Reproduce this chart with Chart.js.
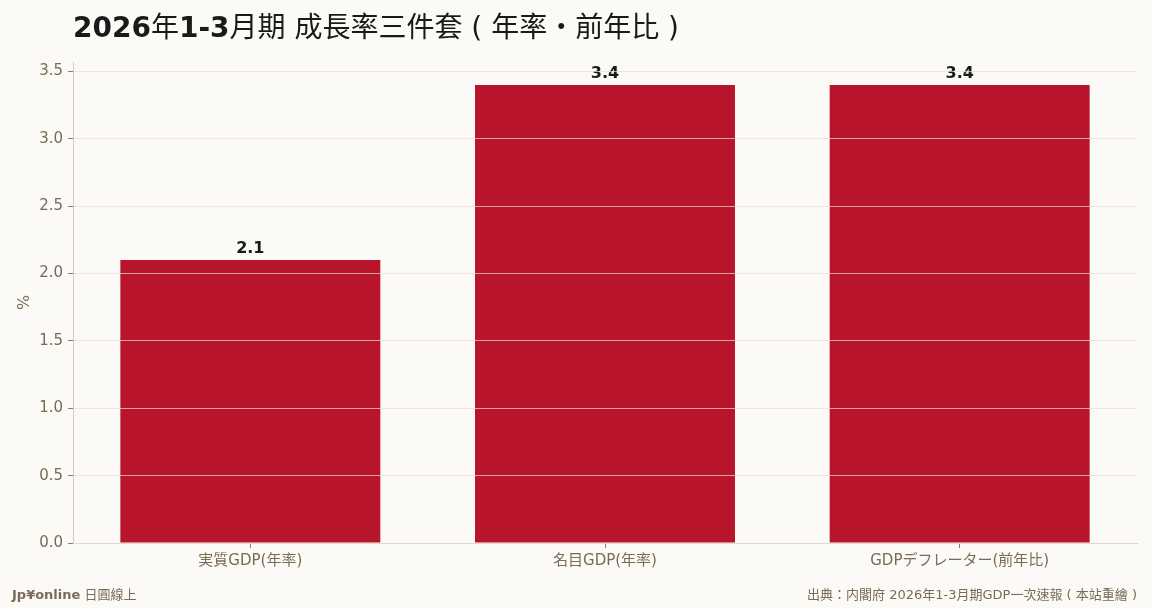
<!DOCTYPE html>
<html lang="zh-Hant">
<head>
<meta charset="utf-8">
<script src="https://cdn.jsdelivr.net/npm/chart.js@4/dist/chart.umd.min.js"></script>
<style>
  html, body { margin: 0; padding: 0; background: #fbfaf6; }
  #wrap { width: 1152px; height: 608px; position: relative; }
</style>
</head>
<body>
<div id="wrap"><canvas id="gdp_growth"></canvas></div>
<script>
// 2026年1-3月期 成長率三件套
var categories = ["実質GDP(年率)", "名目GDP(年率)", "GDPデフレーター(前年比)"];
var growthValues = [2.1, 3.4, 3.4];
var yTicks = [0, 0.5, 1.0, 1.5, 2.0, 2.5, 3.0, 3.5];

var INK = '#1a1a1a';
var MUTED = '#7a6b55';
var SPINE = '#d2cbbf';
var LATIN = '"DejaVu Sans"';
var CJK = '"Noto Sans CJK TC"';

// draw a line of mixed runs: [text, bold]
function drawRuns(ctx, runs, x, y, size, color, alignRight) {
    var fontFor = function (r) {
        return (r[1] ? 'bold ' : '') + size + 'px ' + LATIN + ', ' + CJK;
    };
    if (alignRight) {
        var total = 0;
        runs.forEach(function (r) { ctx.font = fontFor(r); total += ctx.measureText(r[0]).width; });
        x -= total;
    }
    ctx.fillStyle = color;
    ctx.textAlign = 'left';
    ctx.textBaseline = 'alphabetic';
    runs.forEach(function (r) {
        ctx.font = fontFor(r);
        ctx.fillText(r[0], x, y);
        x += ctx.measureText(r[0]).width;
    });
}

var decorations = {
    id: 'decorations',
    afterDatasetsDraw: function (chart) {
        var ctx = chart.ctx;
        ctx.save();
        // value labels
        var meta = chart.getDatasetMeta(0);
        ctx.font = 'bold 16px ' + LATIN;
        ctx.fillStyle = INK;
        ctx.textAlign = 'center';
        ctx.textBaseline = 'alphabetic';
        meta.data.forEach(function (bar, i) {
            ctx.fillText(growthValues[i].toFixed(1), bar.x, bar.y - 7);
        });
        ctx.restore();
    },
    afterDraw: function (chart) {
        var ctx = chart.ctx;
        var area = chart.chartArea;
        ctx.save();
        // left spine
        ctx.strokeStyle = SPINE;
        ctx.lineWidth = 1;
        ctx.beginPath();
        ctx.moveTo(Math.round(area.left) + 0.5, area.top);
        ctx.lineTo(Math.round(area.left) + 0.5, area.bottom);
        ctx.stroke();

        drawRuns(ctx, [["2026", true], ["年", false], ["1-3", true], ["月期 成長率三件套 ( 年率・前年比 )", false]],
            73, 37, 28, INK, false);
        drawRuns(ctx, [["Jp¥online", true], [" 日圓線上", false]], 12, 599, 13, MUTED, false);
        drawRuns(ctx, [["出典：内閣府 2026年1-3月期GDP一次速報 ( 本站重繪 )", false]], 1137, 599, 13, MUTED, true);
        ctx.restore();
    }
};

new Chart(document.getElementById('gdp_growth'), {
    type: 'bar',
    data: {
        labels: categories,
        datasets: [{
            data: growthValues,
            backgroundColor: '#b8152c',
            borderWidth: 0,
            categoryPercentage: 1.0,
            barPercentage: 0.733
        }]
    },
    options: {
        responsive: true,
        maintainAspectRatio: false,
        animation: false,
        layout: { padding: { top: 62, right: 15, bottom: 0, left: 0 } },
        plugins: {
            legend: { display: false },
            tooltip: { enabled: false }
        },
        scales: {
            x: {
                grid: {
                    display: true,
                    drawOnChartArea: false,
                    drawTicks: true,
                    offset: false,
                    tickLength: 5,
                    tickColor: '#8a7d68'
                },
                border: { color: SPINE, width: 1 },
                ticks: {
                    color: MUTED,
                    padding: 4,
                    font: { family: LATIN + ', ' + CJK, size: 15 }
                },
                afterFit: function (scale) { scale.height = 65; }
            },
            y: {
                z: 1,
                min: 0,
                max: 3.57,
                afterBuildTicks: function (scale) {
                    scale.ticks = yTicks.map(function (v) { return { value: v }; });
                },
                grid: {
                    z: 1,
                    color: 'rgba(232, 224, 210, 0.7)',
                    lineWidth: 1,
                    tickLength: 5,
                    tickColor: '#8a7d68'
                },
                border: { display: false },
                ticks: {
                    color: MUTED,
                    padding: 5,
                    font: { family: LATIN, size: 15 },
                    callback: function (v) { return Number(v).toFixed(1); }
                },
                title: {
                    display: true,
                    text: '%',
                    color: MUTED,
                    font: { family: LATIN, size: 16 },
                    padding: { top: 15, bottom: 0 }
                },
                afterFit: function (scale) { scale.width = 73; }
            }
        }
    },
    plugins: [decorations]
});
</script>
</body>
</html>
